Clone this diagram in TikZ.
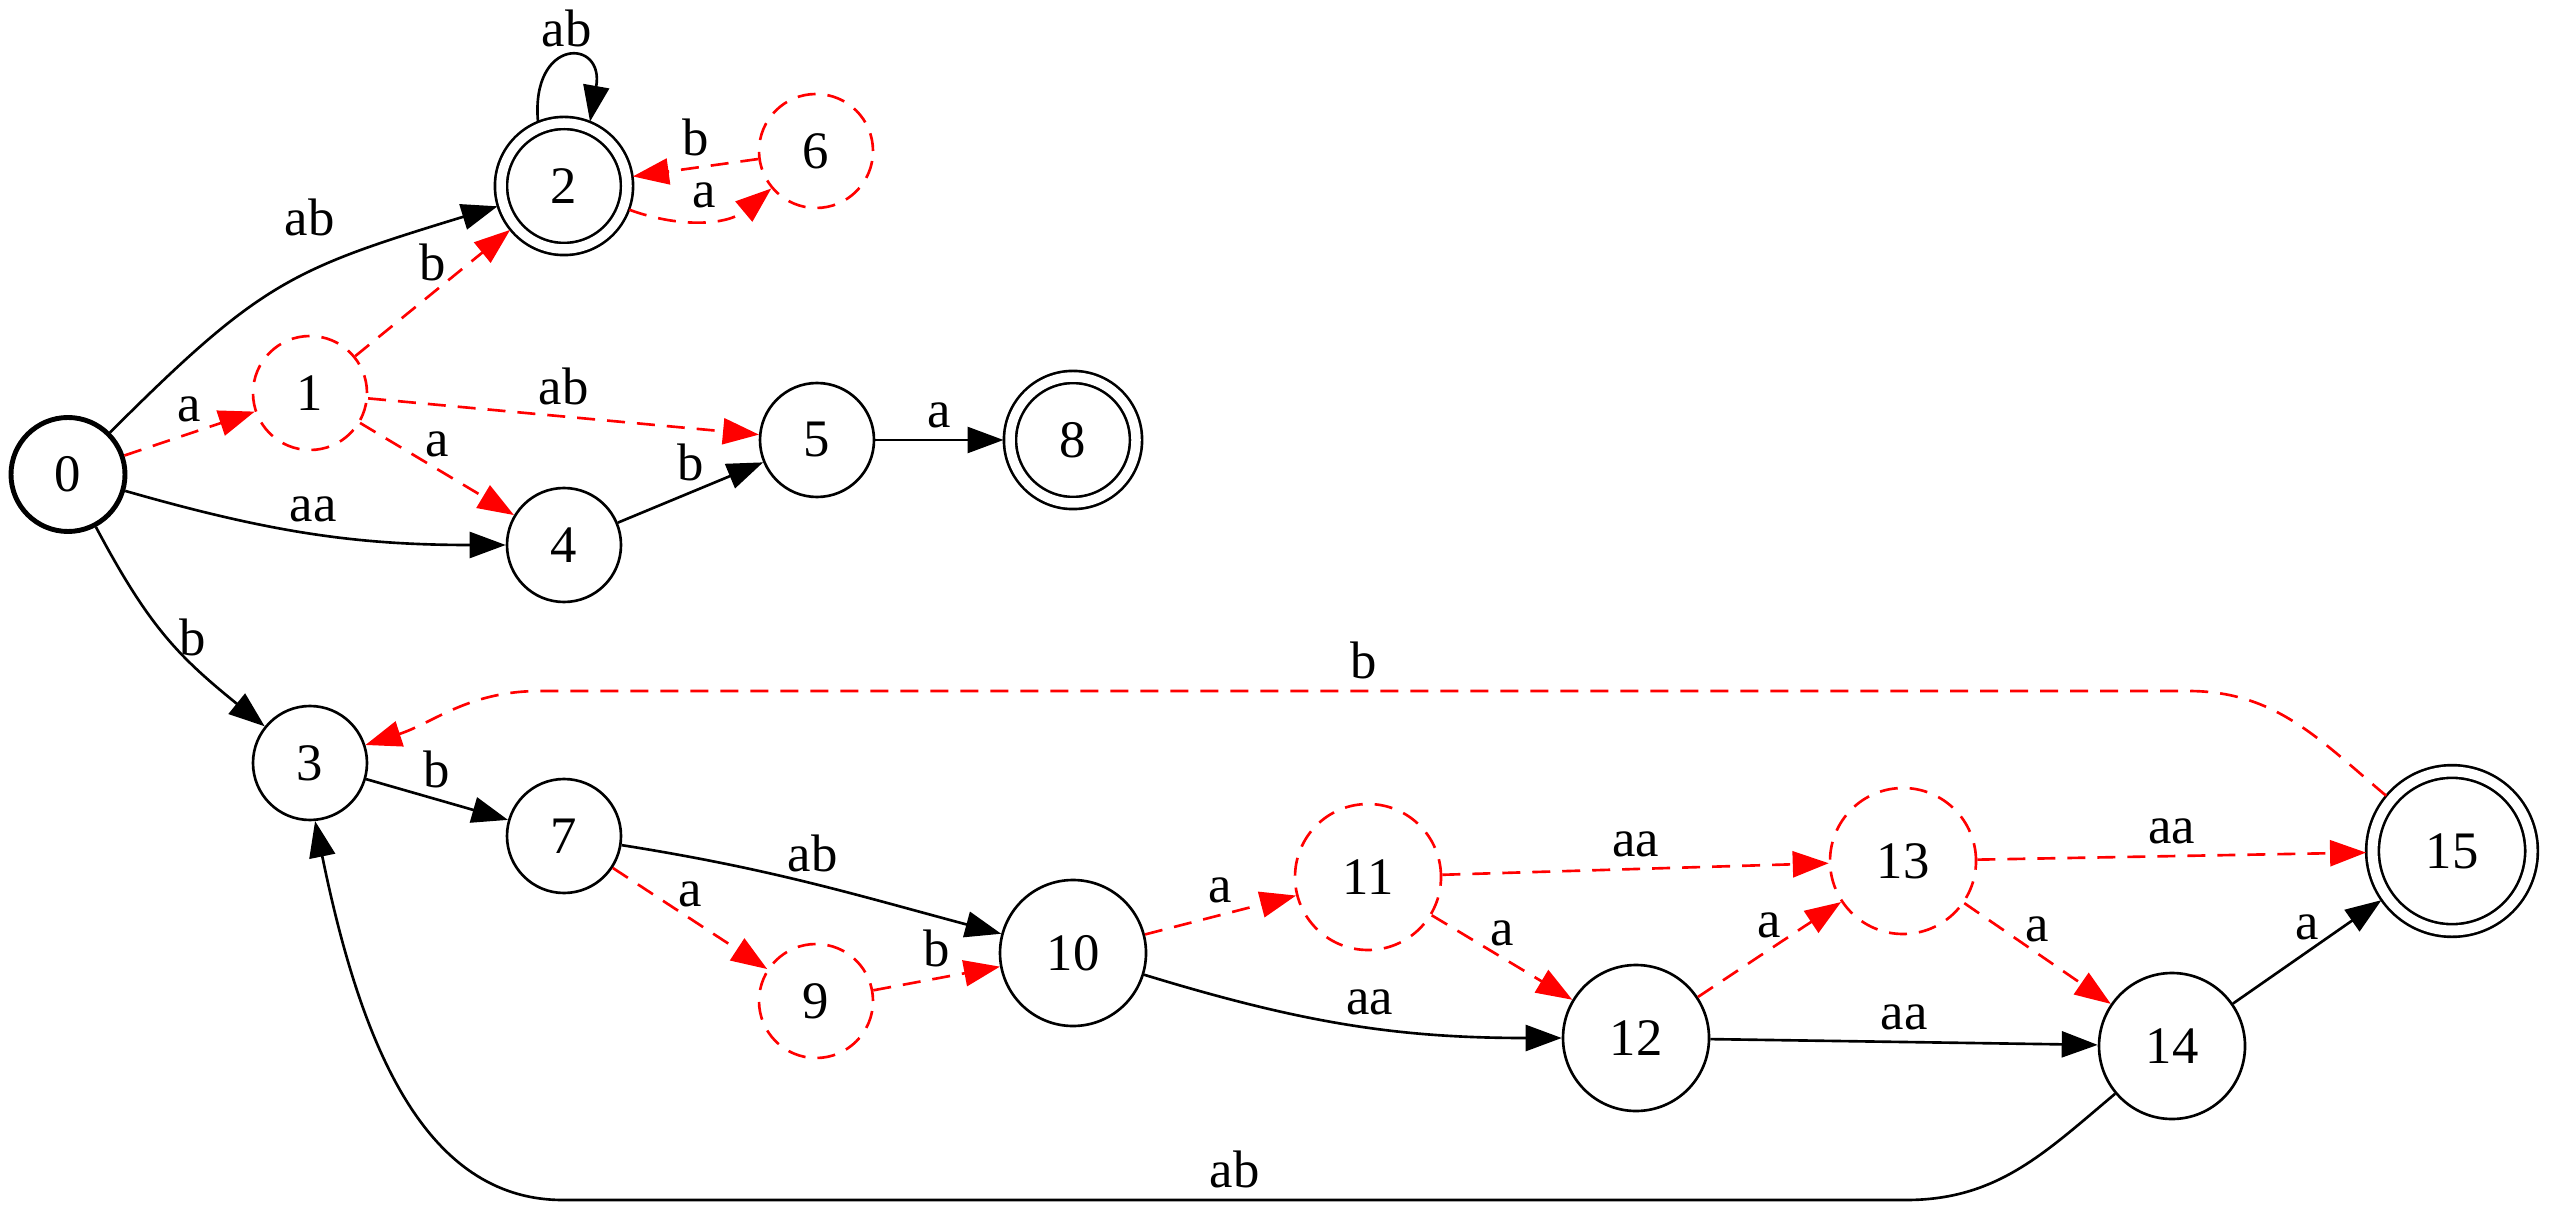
\documentclass[tikz,border=0pt]{standalone}
\usepackage{fontspec}
\setmainfont{Liberation Serif}
\usepackage{tikz}
\usetikzlibrary{arrows.meta}
\newcommand{\statefont}{\fontsize{15}{18}\selectfont}

\begin{document}
\begin{tikzpicture}[>={Triangle[length=0.36cm,width=0.26cm]},line width=0.75pt,
        st/.style={circle,draw,minimum size=1.14cm,inner sep=0pt,font=\statefont},
        wst/.style={st,minimum size=1.46cm},
        acc/.style={st,double,double distance=0.095cm,minimum size=1.26cm,
                    outer sep=0.065cm},
        dead/.style={draw=red,dash pattern=on 0.18cm off 0.12cm},
        move/.style={->},
        dmove/.style={->,red,dash pattern=on 0.18cm off 0.12cm},
        lbl/.style={font=\statefont,inner sep=3pt,text=black}]
      \useasboundingbox (0,0) rectangle (25.5,-12.13);
      %% ── States, upper part ───────────────────────────────
      \node[st,line width=1.4pt](n0) at(0.68,-4.745){0};
      \node[st,dead]   (n1) at(3.10,-3.93){1};
      \node[acc]       (n2) at(5.64,-1.86){2};
      \node[st,dead]   (n6) at(8.16,-1.51){6};
      \node[st]        (n4) at(5.64,-5.45){4};
      \node[st]        (n5) at(8.17,-4.40){5};
      \node[acc]       (n8) at(10.73,-4.40){8};
      %% ── States, lower part ───────────────────────────────
      \node[st]        (n3) at(3.10,-7.63){3};
      \node[st]        (n7) at(5.64,-8.36){7};
      \node[st,dead]   (n9) at(8.16,-10.01){9};
      \node[wst]       (n10)at(10.73,-9.53){10};
      \node[wst,dead]  (n11)at(13.68,-8.77){11};
      \node[wst]       (n12)at(16.36,-10.38){12};
      \node[wst,dead]  (n13)at(19.03,-8.61){13};
      \node[wst]       (n14)at(21.72,-10.46){14};
      \node[acc,minimum size=1.59cm,double distance=0.10cm](n15)at(24.52,-8.51){15};
      %% ── Bends of the two long edges back to 3 ────────────
      \coordinate (topR) at(21.88,-6.91);
      \coordinate (topL) at(5.40,-6.91);
      \coordinate (botR) at(19.06,-12.00);
      \coordinate (botL) at(5.63,-12.00);
      %% ── Edges out of 0 ───────────────────────────────────
      \draw[move] (n0) to[out=45,in=197,looseness=1.22] node[lbl,pos=0.58,above=7pt]{ab} (n2);
      \draw[dmove](n0) -- node[lbl,above]{a} (n1);
      \draw[move] (n0) to[out=-16,in=180] node[lbl,above]{aa} (n4);
      \draw[move] (n0) to[out=-62,in=141,looseness=1.1] node[lbl,right]{b} (n3);
      %% ── Edges out of 1, 2, 6, 4, 5 ───────────────────────
      \draw[dmove](n1) -- node[lbl,above]{b} (n2);
      \draw[dmove](n1) -- node[lbl,above]{ab} (n5);
      \draw[dmove](n1) -- node[lbl,above]{a} (n4);
      \draw[move] (n2.112) .. controls +(95:0.85) and +(80:0.85) .. node[lbl,above]{ab} (n2.68);
      \draw[dmove](n2) to[out=-20,in=220] node[lbl,above]{a} (n6);
      \draw[dmove](n6) -- node[lbl,above]{b} (n2);
      \draw[move] (n4) -- node[lbl,above]{b} (n5);
      \draw[move] (n5) -- node[lbl,above]{a} (n8);
      %% ── Lower chain ──────────────────────────────────────
      \draw[move] (n3) -- node[lbl,above]{b} (n7);
      \draw[move] (n7) to[out=-9,in=165] node[lbl,above]{ab} (n10);
      \draw[dmove](n7) -- node[lbl,above]{a} (n9);
      \draw[dmove](n9) -- node[lbl,above]{b} (n10);
      \draw[dmove](n10) -- node[lbl,above]{a} (n11);
      \draw[move] (n10) to[out=-17,in=180] node[lbl,above,pos=0.55]{aa} (n12);
      \draw[dmove](n11) -- node[lbl,above]{aa} (n13);
      \draw[dmove](n11) -- node[lbl,above]{a} (n12);
      \draw[dmove](n12) -- node[lbl,above]{a} (n13);
      \draw[move] (n12) -- node[lbl,above]{aa} (n14);
      \draw[dmove](n13) -- node[lbl,above]{a} (n14);
      \draw[dmove](n13) -- node[lbl,above]{aa} (n15);
      \draw[move] (n14) -- node[lbl,above]{a} (n15);
      %% ── Long edges back to 3 ─────────────────────────────
      \draw[dmove](n15) to[out=140,in=0] (topR) -- node[lbl,above]{b} (topL)
            to[out=180,in=18] (n3);
      \draw[move] (n14) to[out=220,in=0] (botR) -- node[lbl,above]{ab} (botL)
            .. controls +(-1.4,0) and +(0.45,-2.2) .. (n3.-85);
    \end{tikzpicture}
\end{document}
